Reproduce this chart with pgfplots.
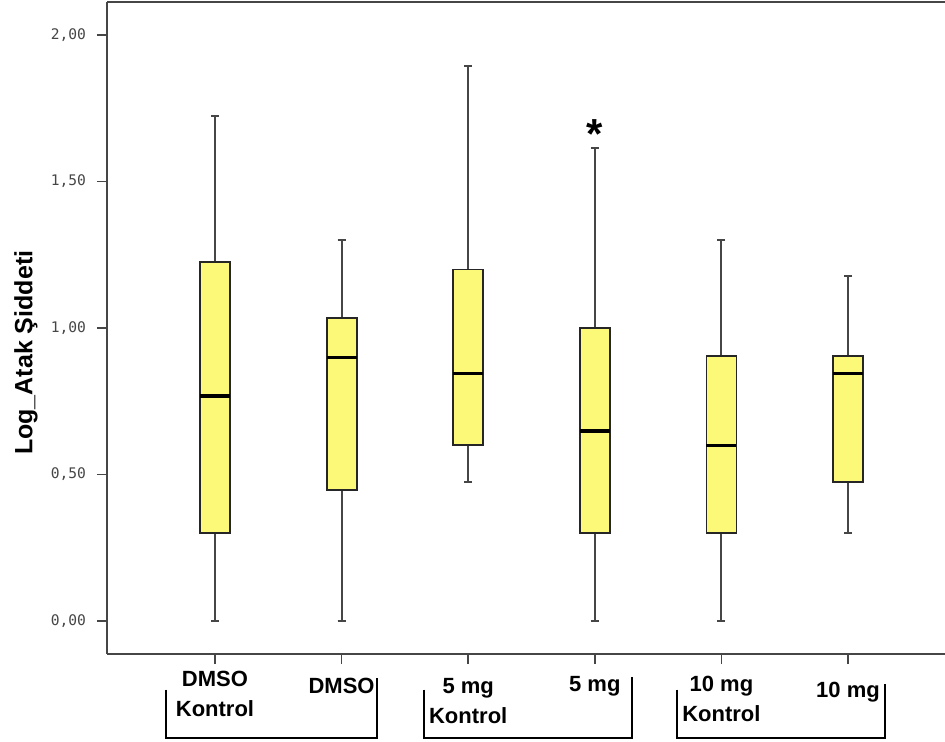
\documentclass[border=0pt]{standalone}
\usepackage{fontspec}
\setmainfont{Liberation Sans}
\newfontfamily\tickfont{DejaVu Sans Mono}
\usepackage{pgfplots}
\pgfplotsset{compat=1.18}
\usepgfplotslibrary{statistics}
\definecolor{boxyellow}{RGB}{253,249,120}
\definecolor{axgray}{RGB}{70,70,70}
\pgfkeys{/pgfplots/boxplot/mystyle/.style={
  draw direction=y,
  box extend=0.237,
  whisker extend=0.063,
  every median/.style={black, line width=1.6pt},
  every whisker/.style={axgray, line width=1pt},
  every box/.style={draw=black!85, line width=0.9pt, fill=boxyellow},
}}
\begin{document}
\begin{tikzpicture}
\begin{axis}[
  name=ax,
  scale only axis, width=419pt, height=326pt,
  xmin=0.147, xmax=6.766, ymin=-0.113, ymax=2.113,
  axis lines=left,
  axis line style={-, draw=axgray, line width=1pt},
  tick align=outside, major tick length=5pt,
  tick style={draw=axgray, line width=0.8pt},
  ytick={0,0.5,1,1.5,2},
  yticklabels={{0,00},{0,50},{1,00},{1,50},{2,00}},
  yticklabel style={font=\tickfont\fontsize{7.3}{8}\selectfont, text=axgray, xshift=-2pt},
  xtick={1,2,3,4,5,6},
  xticklabels={{DMSO\\Kontrol},{\rule{0pt}{11.4pt}DMSO},{\rule{0pt}{11.4pt}5 mg\\Kontrol},{\rule{0pt}{10pt}5 mg},{\rule{0pt}{10pt}10 mg\\Kontrol},{\rule{0pt}{13.4pt}10 mg}},
  xticklabel style={font=\bfseries\fontsize{11}{15}\selectfont, align=center, anchor=north},
  ylabel={Log\_Atak Şiddeti},
  ylabel style={font=\bfseries\fontsize{12.5}{14}\selectfont, at={(axis description cs:-0.0967,0.462)}, anchor=center},
  clip=false,
]
\addplot[boxplot prepared={mystyle, draw position=1, lower whisker=0, lower quartile=0.30, median=0.768, upper quartile=1.225, upper whisker=1.724}, draw=black!85, fill=boxyellow] coordinates {};
\addplot[boxplot prepared={mystyle, draw position=2, lower whisker=0, lower quartile=0.447, median=0.90, upper quartile=1.034, upper whisker=1.30}, draw=black!85, fill=boxyellow] coordinates {};
\addplot[boxplot prepared={mystyle, draw position=3, lower whisker=0.474, lower quartile=0.60, median=0.846, upper quartile=1.20, upper whisker=1.894}, draw=black!85, fill=boxyellow] coordinates {};
\addplot[boxplot prepared={mystyle, draw position=4, lower whisker=0, lower quartile=0.30, median=0.648, upper quartile=1.0, upper whisker=1.614}, draw=black!85, fill=boxyellow, mark=text, text mark={\fontsize{21}{21}\selectfont\bfseries\color{black}*}, text mark style={y=-3pt}] coordinates {(0,1.682)};
\addplot[boxplot prepared={mystyle, draw position=5, lower whisker=0, lower quartile=0.30, median=0.60, upper quartile=0.904, upper whisker=1.30}, draw=black!85, fill=boxyellow] coordinates {};
\addplot[boxplot prepared={mystyle, draw position=6, lower whisker=0.30, lower quartile=0.474, median=0.846, upper quartile=0.904, upper whisker=1.177}, draw=black!85, fill=boxyellow] coordinates {};
\draw[axgray, line width=1pt] (rel axis cs:0,1) -- (rel axis cs:1,1);
\draw[black, line width=1pt] (axis cs:0.613,-0.235) -- (axis cs:0.613,-0.399) -- (axis cs:2.28,-0.399) -- (axis cs:2.28,-0.195);
\draw[black, line width=1pt] (axis cs:2.65,-0.235) -- (axis cs:2.65,-0.399) -- (axis cs:4.29,-0.399) -- (axis cs:4.29,-0.190);
\draw[black, line width=1pt] (axis cs:4.65,-0.235) -- (axis cs:4.65,-0.399) -- (axis cs:6.29,-0.399) -- (axis cs:6.29,-0.215);
\end{axis}
\pgfresetboundingbox
\useasboundingbox ([xshift=-53.5pt,yshift=-44pt]ax.south west) rectangle ([yshift=1pt]ax.north east);
\end{tikzpicture}
\end{document}
